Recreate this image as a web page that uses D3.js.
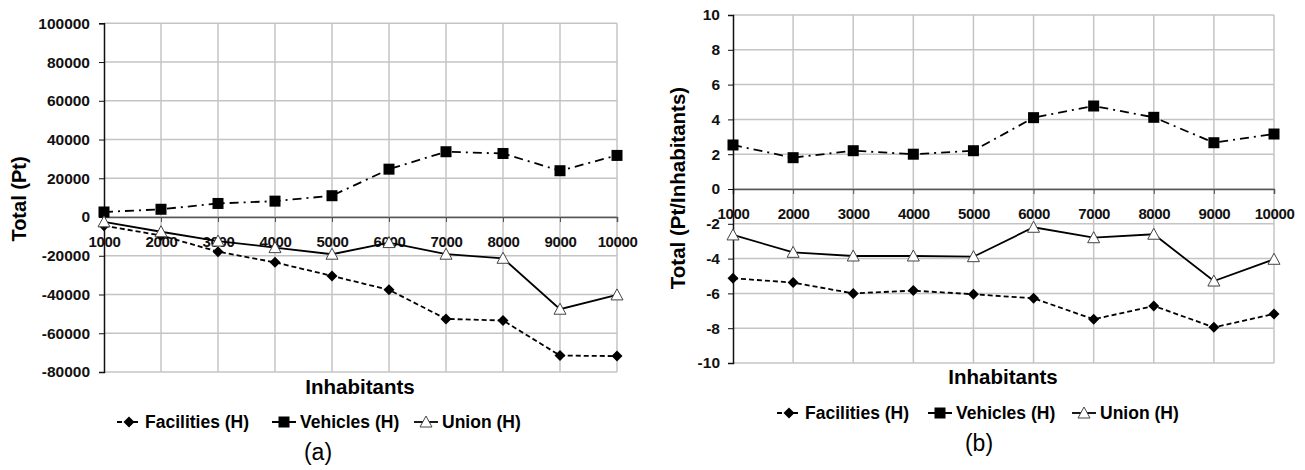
<!DOCTYPE html>
<html>
<head>
<meta charset="utf-8">
<script src="https://cdn.jsdelivr.net/npm/d3@7"></script>
<style>
  body { margin: 0; background: #fff; }
  svg { display: block; font-family: "Liberation Sans", Arial, sans-serif; }
  .tick text { font-weight: bold; fill: #111; }
</style>
</head>
<body>
<script>
"use strict";

// categories on the x axis
const inhabitants = [1000, 2000, 3000, 4000, 5000, 6000, 7000, 8000, 9000, 10000];

// (a) totals, Pt
const facilitiesTotal = [-4500, -9500, -17900, -23400, -30400, -37600, -52600, -53400, -71500, -71800];
const vehiclesTotal = [2600, 4000, 7000, 8200, 11000, 24700, 33700, 32800, 23900, 31800];
const unionTotal = [-2500, -7600, -12400, -15800, -19200, -13200, -19200, -21300, -47600, -40200];

// (b) per inhabitant, Pt/Inhabitants
const facilitiesPerInh = [-5.13, -5.38, -6.0, -5.84, -6.05, -6.28, -7.49, -6.72, -7.95, -7.18];
const vehiclesPerInh = [2.53, 1.8, 2.2, 2.0, 2.2, 4.1, 4.77, 4.12, 2.66, 3.16];
const unionPerInh = [-2.64, -3.64, -3.85, -3.85, -3.89, -2.2, -2.8, -2.6, -5.29, -4.04];

const seriesNames = ["Facilities (H)", "Vehicles (H)", "Union (H)"];
const yTicksA = d3.range(-80000, 100001, 20000);
const yTicksB = d3.range(-10, 10.1, 2);

const w = 1305;
const h = 470;

const svg = d3.select("body").append("svg").attr("width", w).attr("height", h);

// plain hyphen for negatives, like the original
const fmt = (d) => String(Math.round(d));

// line styles per series
const styles = [
  { dash: "5,3", marker: "diamond" },
  { dash: "9,5,2,5", marker: "square" },
  { dash: null, marker: "triangle" }
];

function drawMarker(g, type, x, y) {
  if (type === "diamond") {
    g.append("path")
      .attr("d", `M${x},${y - 5.5}L${x + 5.5},${y}L${x},${y + 5.5}L${x - 5.5},${y}Z`)
      .attr("fill", "#000");
  } else if (type === "square") {
    g.append("rect")
      .attr("x", x - 5.5).attr("y", y - 5.5)
      .attr("width", 11).attr("height", 11)
      .attr("fill", "#000");
  } else {
    g.append("path")
      .attr("d", `M${x},${y - 6}L${x + 6},${y + 5}L${x - 6},${y + 5}Z`)
      .attr("fill", "#fff").attr("stroke", "#444").attr("stroke-width", 1);
  }
}

function drawPanel(opt) {
  const g = svg.append("g");
  const x = d3.scaleLinear().domain([1000, 10000]).range([opt.x0, opt.x1]);
  const y = d3.scaleLinear().domain(opt.yDomain).range([opt.yBottom, opt.yTop]);

  // horizontal grid
  g.append("g")
    .selectAll("line")
    .data(opt.yTicks)
    .enter()
    .append("line")
    .attr("x1", opt.x0).attr("x2", opt.x1)
    .attr("y1", (d) => y(d)).attr("y2", (d) => y(d))
    .attr("stroke", "#c4c4c4").attr("stroke-width", 1.5);

  // vertical grid
  g.append("g")
    .selectAll("line")
    .data(inhabitants.slice(1))
    .enter()
    .append("line")
    .attr("x1", (d) => x(d)).attr("x2", (d) => x(d))
    .attr("y1", opt.yTop).attr("y2", opt.yBottom)
    .attr("stroke", "#c4c4c4").attr("stroke-width", 1.5);

  // x axis on the zero line
  const xAxis = d3.axisBottom(x).tickValues(inhabitants).tickSize(5).tickPadding(14).tickFormat(fmt);
  g.append("g")
    .attr("transform", `translate(0, ${y(0)})`)
    .call(xAxis)
    .call((a) => a.select(".domain").attr("stroke", "#555").attr("stroke-width", 1.5))
    .call((a) => a.selectAll(".tick line").attr("stroke", "#555"))
    .call((a) => a.selectAll(".tick text").style("font-size", "15px").attr("letter-spacing", "-0.4"));

  // y axis
  const yAxis = d3.axisLeft(y).tickValues(opt.yTicks).tickSize(5).tickPadding(opt.pad).tickFormat(fmt);
  g.append("g")
    .attr("transform", `translate(${opt.x0}, 0)`)
    .call(yAxis)
    .call((a) => a.select(".domain").attr("stroke", "#111").attr("stroke-width", 1.5))
    .call((a) => a.selectAll(".tick line").attr("stroke", "#111"))
    .call((a) => a.selectAll(".tick text").style("font-size", "15.5px"));

  // series lines and markers
  opt.series.forEach((vals, i) => {
    const pts = inhabitants.map((d, j) => [x(d), y(vals[j])]);
    g.append("path")
      .attr("d", d3.line()(pts))
      .attr("fill", "none")
      .attr("stroke", "#000")
      .attr("stroke-width", 1.8)
      .attr("stroke-dasharray", styles[i].dash);
    pts.forEach((p) => drawMarker(g, styles[i].marker, p[0], p[1]));
  });

  // axis titles
  g.append("text")
    .attr("transform", `translate(${opt.yLabelX}, ${opt.yLabelY}) rotate(-90)`)
    .attr("text-anchor", "middle")
    .style("font-size", opt.yLabelSize).style("font-weight", "bold")
    .text(opt.yLabel);

  g.append("text")
    .attr("x", opt.xLabelX).attr("y", opt.xLabelY)
    .attr("text-anchor", "middle")
    .style("font-size", "20.5px").style("font-weight", "bold")
    .text("Inhabitants");

  // legend
  const leg = g.append("g").attr("transform", `translate(0, ${opt.legendY})`);
  seriesNames.forEach((name, i) => {
    const lx = opt.legendX[i];
    leg.append("line")
      .attr("x1", lx).attr("x2", lx + 24)
      .attr("y1", 0).attr("y2", 0)
      .attr("stroke", "#000").attr("stroke-width", 1.8)
      .attr("stroke-dasharray", i === 1 ? "8,3,2,3" : i === 0 ? "5,3" : null);
    drawMarker(leg, styles[i].marker, lx + 12, 0);
    leg.append("text")
      .attr("x", lx + 28).attr("y", 6)
      .style("font-size", "17.5px").style("font-weight", "bold")
      .text(name);
  });

  g.append("text")
    .attr("x", opt.capX).attr("y", opt.capY)
    .attr("text-anchor", "middle")
    .style("font-size", "23px")
    .text(opt.caption);
}

drawPanel({
  x0: 104, x1: 617, yTop: 23.3, yBottom: 372,
  yDomain: [-80000, 100000], yTicks: yTicksA, pad: 9,
  series: [facilitiesTotal, vehiclesTotal, unionTotal],
  yLabel: "Total (Pt)", yLabelSize: "20px", yLabelX: 26, yLabelY: 199,
  xLabelX: 360, xLabelY: 394,
  legendY: 422, legendX: [117, 272, 414],
  caption: "(a)", capX: 318, capY: 460
});

drawPanel({
  x0: 733, x1: 1274, yTop: 15, yBottom: 363,
  yDomain: [-10, 10], yTicks: yTicksB, pad: 8,
  series: [facilitiesPerInh, vehiclesPerInh, unionPerInh],
  yLabel: "Total (Pt/Inhabitants)", yLabelSize: "20.5px", yLabelX: 685, yLabelY: 188,
  xLabelX: 1003, xLabelY: 384,
  legendY: 413, legendX: [777, 928, 1072],
  caption: "(b)", capX: 979, capY: 451
});
</script>
</body>
</html>
